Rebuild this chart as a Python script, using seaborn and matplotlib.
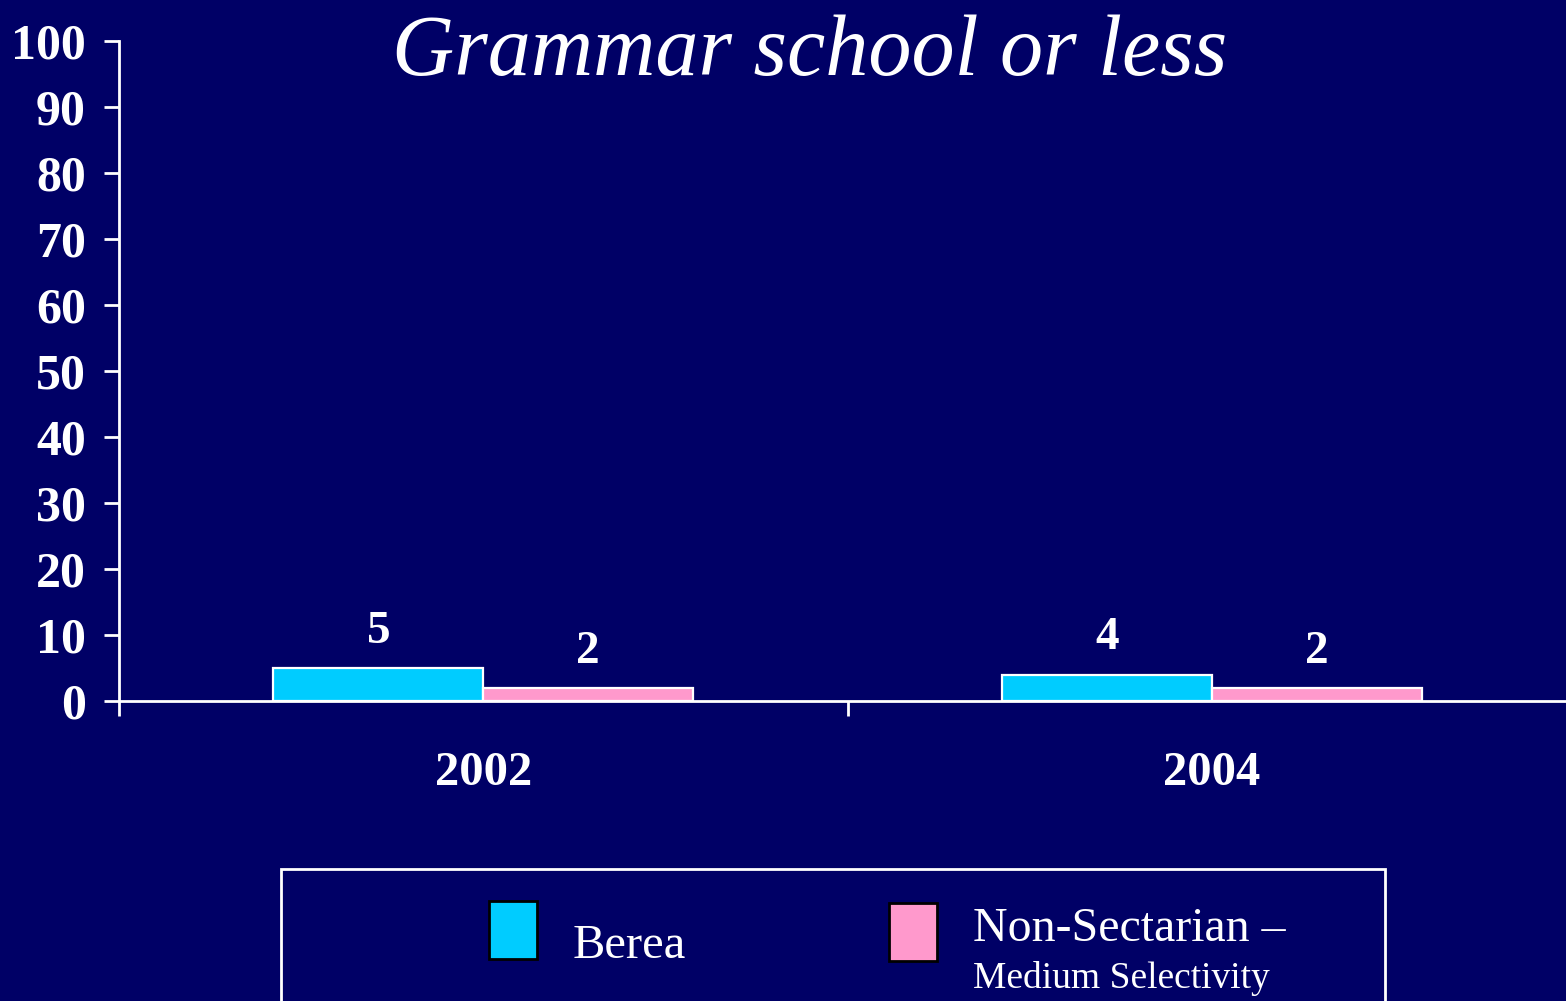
import pandas as pd
import matplotlib.pyplot as plt
import seaborn as sns
from matplotlib.patches import Rectangle

years = ['2002', '2004']
berea = [5, 4]
non_sectarian = [2, 2]
series_names = ['Berea', 'Non-Sectarian \u2013 Medium Selectivity']

bg = '#000066'
colors = ['#00CCFF', '#FF99CC']

df = pd.DataFrame({
    'Year': years * 2,
    'Percent': berea + non_sectarian,
    'School': [series_names[0]] * 2 + [series_names[1]] * 2,
})

sns.set_style('white')
plt.rcParams['font.family'] = ['Liberation Serif', 'DejaVu Serif']

fig = plt.figure(figsize=(15.66, 10.01), dpi=100, facecolor=bg)
ax = fig.add_axes([119 / 1566, 1 - 701 / 1001, 1 - 119 / 1566, (701 - 41) / 1001])
ax.set_facecolor(bg)

sns.barplot(data=df, x='Year', y='Percent', hue='School', palette=colors, saturation=1,
            width=0.576, edgecolor='white', linewidth=1.6, ax=ax, legend=False)

for c in ax.containers:
    ax.bar_label(c, fmt='%g', padding=11, color='white', fontsize=34, fontweight='bold')

ax.set_xlim(-0.5, 1.486)
ax.set_ylim(0, 100)
ax.set_yticks(range(0, 101, 10))
ax.set_xlabel('')
ax.set_ylabel('')

for side in ['top', 'right']:
    ax.spines[side].set_visible(False)
for side in ['left', 'bottom']:
    ax.spines[side].set_color('white')
    ax.spines[side].set_linewidth(2)

ax.tick_params(axis='y', colors='white', length=11, width=2, direction='out',
               pad=13, labelsize=36, left=True)
for t in ax.get_yticklabels():
    t.set_fontweight('bold')
ax.tick_params(axis='x', which='major', length=0, pad=36, labelsize=35, labelcolor='white')
for t in ax.get_xticklabels():
    t.set_fontweight('bold')
ax.set_xticks([-0.5, 0.5], minor=True)
ax.tick_params(axis='x', which='minor', length=11, width=2, color='white', direction='out', bottom=True)

fig.text(810 / 1566, 1 - 75 / 1001, 'Grammar school or less', ha='center', va='baseline',
         color='white', fontsize=62, fontstyle='italic')

# legend box
def px(x, y):
    return x / 1566, 1 - y / 1001

fig.patches.append(Rectangle(px(281, 1003), 1104 / 1566, 134 / 1001, transform=fig.transFigure,
                             facecolor='none', edgecolor='white', linewidth=2))
fig.patches.append(Rectangle(px(489, 959), 48 / 1566, 58 / 1001, transform=fig.transFigure,
                             facecolor=colors[0], edgecolor='black', linewidth=2))
fig.patches.append(Rectangle(px(889, 961), 48 / 1566, 58 / 1001, transform=fig.transFigure,
                             facecolor=colors[1], edgecolor='black', linewidth=2))
fig.text(*px(573, 958), 'Berea', color='white', fontsize=35, va='baseline')
fig.text(*px(973, 941), 'Non-Sectarian \u2013', color='white', fontsize=34.5, va='baseline')
fig.text(*px(973, 988), 'Medium Selectivity', color='white', fontsize=27, va='baseline')

fig.savefig('out.png', dpi=100, facecolor=bg)
